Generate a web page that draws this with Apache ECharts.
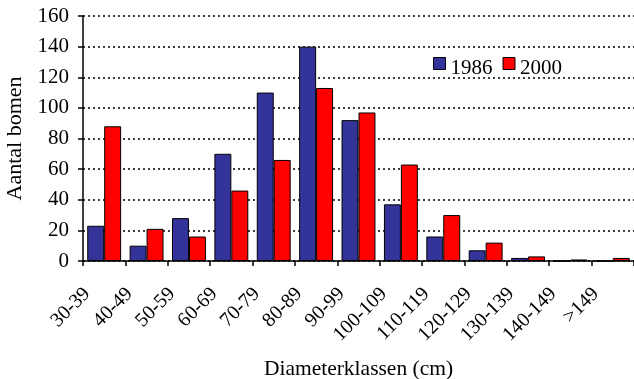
<!DOCTYPE html>
<html>
<head>
<meta charset="utf-8">
<script src="https://cdn.jsdelivr.net/npm/echarts@6/dist/echarts.min.js"></script>
<style>
    html,body{margin:0;padding:0;background:#fff;}
</style>
</head>
<body>
<div id="chart" style="width:634px;height:379px"></div>
<script>
    //klassen
    var categories = ['30-39','40-49','50-59','60-69','70-79','80-89','90-99','100-109','110-119','120-129','130-139','140-149','>149'];
    var data1986 = [23, 10, 28, 70, 110, 140, 92, 37, 16, 7, 2, 0, 0];
    var data2000 = [88, 21, 16, 46, 66, 113, 97, 63, 30, 12, 3, 1, 2];
    var yTicks = {min: 0, max: 160, interval: 20};

    var font = 'Liberation Serif';
    var myChart = echarts.init(document.getElementById('chart'));
    var option = {
        animation: false,
        textStyle: {fontFamily: font, color: '#000'},
        grid: {left: 83, right: 0, top: 16, bottom: 118, outerBoundsMode: 'none', containLabel: false},
        legend: {
            left: 433,
            top: 57,
            padding: 0,
            itemWidth: 12,
            itemHeight: 12,
            itemGap: 10,
            formatter: '{t|{name}}',
            textStyle: {
                fontFamily: font, fontSize: 21, color: '#000',
                rich: {t: {fontFamily: font, fontSize: 21, color: '#000', padding: [10, 0, 0, 0]}}
            },
            data: [
                {name: '1986', icon: 'rect', itemStyle: {borderColor: '#000', borderWidth: 1}},
                {name: '2000', icon: 'rect', itemStyle: {borderColor: '#000', borderWidth: 1}}
            ]
        },
        xAxis: {
            type: 'category',
            data: categories,
            name: 'Diameterklassen (cm)',
            nameLocation: 'middle',
            nameGap: 97,
            nameTextStyle: {fontFamily: font, fontSize: 21.5, color: '#000'},
            axisLine: {lineStyle: {color: '#000', width: 1.5}},
            axisTick: {show: true, length: 5, lineStyle: {color: '#000', width: 1.5}},
            axisLabel: {rotate: 45, fontFamily: font, fontSize: 20, color: '#000', margin: 13, interval: 0, padding: [0, 24, 0, 0]}
        },
        yAxis: {
            type: 'value',
            min: yTicks.min,
            max: yTicks.max,
            interval: yTicks.interval,
            name: 'Aantal bomen',
            nameLocation: 'middle',
            nameGap: 54,
            nameTextStyle: {fontFamily: font, fontSize: 22, color: '#000'},
            axisLine: {show: true, lineStyle: {color: '#000', width: 1.5}},
            axisTick: {show: true, length: 5, lineStyle: {color: '#000', width: 1.5}},
            axisLabel: {fontFamily: font, fontSize: 21, color: '#000', margin: 14},
            splitLine: {show: true, lineStyle: {color: '#000', width: 1.5, type: [2, 3]}}
        },
        series: [
            {
                name: '1986',
                type: 'bar',
                data: data1986,
                barGap: '0%',
                barCategoryGap: '20%',
                itemStyle: {color: '#333399', borderColor: '#000', borderWidth: 1}
            },
            {
                name: '2000',
                type: 'bar',
                data: data2000,
                itemStyle: {color: '#ff0000', borderColor: '#000', borderWidth: 1}
            }
        ]
    };
    myChart.setOption(option);
</script>
</body>
</html>
